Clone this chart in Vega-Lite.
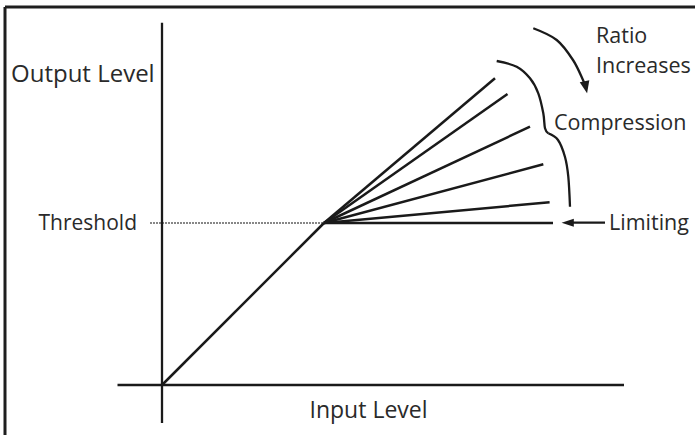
{
  "$schema": "https://vega.github.io/schema/vega-lite/v6.json",
  "width": 695,
  "height": 435,
  "autosize": {"type": "none"},
  "padding": 0,
  "background": "white",
  "config": {"view": {"stroke": null}},
  "datasets": {
    "frame": [
      {"x": -157, "y": 378, "x2": 533, "y2": 378},
      {"x": -157, "y": 378, "x2": -157, "y2": -50}
    ],
    "axes": [
      {"x": 0, "y": -38, "x2": 0, "y2": 362.3},
      {"x": -44.5, "y": 0, "x2": 462, "y2": 0}
    ],
    "transfer": [
      {"ratio": "1:1", "x": 0, "y": 0, "x2": 162, "y2": 162},
      {"ratio": "limit", "x": 162, "y": 162, "x2": 391, "y2": 162},
      {"ratio": "r5", "x": 162, "y": 162, "x2": 387.6, "y2": 182.7},
      {"ratio": "r4", "x": 162, "y": 162, "x2": 381.3, "y2": 220.7},
      {"ratio": "r3", "x": 162, "y": 162, "x2": 368, "y2": 258.3},
      {"ratio": "r2", "x": 162, "y": 162, "x2": 345.5, "y2": 291},
      {"ratio": "r1", "x": 162, "y": 162, "x2": 333, "y2": 306.7}
    ],
    "threshold": [
      {"x": -12, "y": 162, "x2": 162, "y2": 162}
    ],
    "brace": [
      {"part": "upper", "i": 0, "x": 334.7, "y": 324},
      {"part": "upper", "i": 1, "x": 354.7, "y": 318.3},
      {"part": "upper", "i": 2, "x": 368, "y": 306.7},
      {"part": "upper", "i": 3, "x": 376.3, "y": 291.7},
      {"part": "upper", "i": 4, "x": 381.3, "y": 271.7},
      {"part": "upper", "i": 5, "x": 383, "y": 256.7},
      {"part": "upper", "i": 6, "x": 386.3, "y": 251.7},
      {"part": "lower", "i": 0, "x": 386.3, "y": 251.7},
      {"part": "lower", "i": 1, "x": 396, "y": 245},
      {"part": "lower", "i": 2, "x": 403, "y": 228},
      {"part": "lower", "i": 3, "x": 406.3, "y": 208.3},
      {"part": "lower", "i": 4, "x": 408, "y": 178.3}
    ],
    "ratioArrow": [
      {"i": 0, "x": 371.3, "y": 356.7},
      {"i": 1, "x": 394.7, "y": 345},
      {"i": 2, "x": 411, "y": 325},
      {"i": 3, "x": 421, "y": 305},
      {"i": 4, "x": 423.5, "y": 298}
    ],
    "ratioHead": [{"x": 423.8, "y": 297.7}],
    "limitShaft": [{"x": 408, "y": 162.3, "x2": 443, "y2": 162.3}],
    "limitHead": [{"x": 405.7, "y": 162.3}],
    "leftTitles": [
      {"label": "Output Level", "x": -151, "y": 303}
    ],
    "centerTitles": [
      {"label": "Input Level", "x": 206.5, "y": -33}
    ],
    "leftNotes": [
      {"label": "Ratio", "x": 434, "y": 341.7},
      {"label": "Increases", "x": 434, "y": 312},
      {"label": "Compression", "x": 392, "y": 255},
      {"label": "Limiting", "x": 447, "y": 155}
    ],
    "rightNotes": [
      {"label": "Threshold", "x": -25, "y": 155}
    ]
  },
  "encoding": {
    "x": {"field": "x", "type": "quantitative", "scale": {"domain": [-162, 533], "nice": false, "zero": false}, "axis": null},
    "y": {"field": "y", "type": "quantitative", "scale": {"domain": [-50, 385], "nice": false, "zero": false}, "axis": null}
  },
  "layer": [
    {
      "data": {"name": "frame"},
      "mark": {"type": "rule", "color": "#1e1e1e", "strokeWidth": 3},
      "encoding": {"x2": {"field": "x2"}, "y2": {"field": "y2"}}
    },
    {
      "data": {"name": "threshold"},
      "mark": {"type": "rule", "color": "#111111", "strokeWidth": 1.2, "strokeDash": [2, 1]},
      "encoding": {"x2": {"field": "x2"}, "y2": {"field": "y2"}}
    },
    {
      "data": {"name": "axes"},
      "mark": {"type": "rule", "color": "#1a1a1a", "strokeWidth": 2.3},
      "encoding": {"x2": {"field": "x2"}, "y2": {"field": "y2"}}
    },
    {
      "data": {"name": "transfer"},
      "mark": {"type": "rule", "color": "#1a1a1a", "strokeWidth": 2.5},
      "encoding": {"x2": {"field": "x2"}, "y2": {"field": "y2"}}
    },
    {
      "data": {"name": "brace"},
      "mark": {"type": "line", "color": "#1a1a1a", "strokeWidth": 2.3, "interpolate": "cardinal"},
      "encoding": {"detail": {"field": "part"}, "order": {"field": "i", "type": "quantitative"}}
    },
    {
      "data": {"name": "ratioArrow"},
      "mark": {"type": "line", "color": "#1a1a1a", "strokeWidth": 2.3, "interpolate": "cardinal"},
      "encoding": {"order": {"field": "i", "type": "quantitative"}}
    },
    {
      "data": {"name": "ratioHead"},
      "mark": {"type": "point", "shape": "M-0.8,-1L0.8,-1L0,1Z", "size": 150, "filled": true, "color": "#1a1a1a", "opacity": 1, "angle": -12}
    },
    {
      "data": {"name": "limitShaft"},
      "mark": {"type": "rule", "color": "#1a1a1a", "strokeWidth": 2.3},
      "encoding": {"x2": {"field": "x2"}, "y2": {"field": "y2"}}
    },
    {
      "data": {"name": "limitHead"},
      "mark": {"type": "point", "shape": "M1,-0.65L1,0.65L-1,0Z", "size": 150, "filled": true, "color": "#1a1a1a", "opacity": 1}
    },
    {
      "data": {"name": "leftTitles"},
      "mark": {"type": "text", "font": "Open Sans", "fontSize": 24, "color": "#2a2a2a", "baseline": "alphabetic", "align": "left"},
      "encoding": {"text": {"field": "label"}}
    },
    {
      "data": {"name": "centerTitles"},
      "mark": {"type": "text", "font": "Open Sans", "fontSize": 23, "color": "#2a2a2a", "baseline": "alphabetic", "align": "center"},
      "encoding": {"text": {"field": "label"}}
    },
    {
      "data": {"name": "leftNotes"},
      "mark": {"type": "text", "font": "Open Sans", "fontSize": 21.5, "color": "#2a2a2a", "baseline": "alphabetic", "align": "left"},
      "encoding": {"text": {"field": "label"}}
    },
    {
      "data": {"name": "rightNotes"},
      "mark": {"type": "text", "font": "Open Sans", "fontSize": 21, "color": "#2a2a2a", "baseline": "alphabetic", "align": "right"},
      "encoding": {"text": {"field": "label"}}
    }
  ]
}
